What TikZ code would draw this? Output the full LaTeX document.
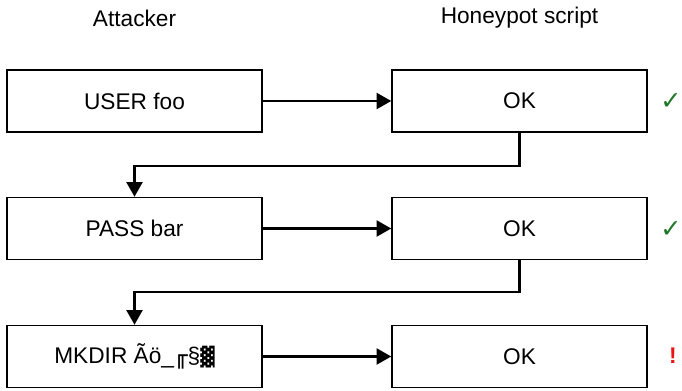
\documentclass[tikz,border=0pt]{standalone}
\usepackage{fontspec}
\setmainfont{Liberation Sans}
\newfontfamily\symfont{DejaVu Sans}
\usetikzlibrary{arrows.meta}
\definecolor{okgreen}{RGB}{30,120,40}
\definecolor{warnred}{RGB}{235,20,20}
\begin{document}
\begin{tikzpicture}[x=0.75pt,y=-0.75pt,
  msgbox/.style={draw=black,line width=1.1pt,minimum width=255*0.75pt,minimum height=62*0.75pt,inner sep=0pt,font=\fontsize{17}{20}\selectfont},
  hdr/.style={font=\fontsize{17}{20}\selectfont},
  conn/.style={line width=1.6pt,-{Triangle[length=11pt,width=12pt]}}]
\useasboundingbox (0,0) rectangle (682,391);
\node[hdr] (hA) at (134.5,18) {Attacker};
\node[hdr] (hH) at (519.5,18) {Honeypot script};
\node[msgbox] (a1) at (134.5,101) {USER foo};
\node[msgbox] (a2) at (134.5,228.5) {PASS bar};
\node[msgbox] (a3) at (134.5,356.5) {MKDIR Ãö\_{\symfont ╓}§{\symfont\fontsize{14}{16}\selectfont ▓}};
\node[msgbox] (h1) at (519.5,101) {OK};
\node[msgbox] (h2) at (519.5,228.5) {OK};
\node[msgbox] (h3) at (519.5,356.5) {OK};
\node[text=okgreen,font=\symfont\bfseries\fontsize{19}{22}\selectfont] (c1) at (671,102) {✓};
\node[text=okgreen,font=\symfont\bfseries\fontsize{19}{22}\selectfont] (c2) at (671,230) {✓};
\node[text=warnred,font=\fontsize{17}{20}\selectfont\bfseries] (c3) at (673,356) {!};
\draw[conn] (a1) -- (h1);
\draw[conn] (a2) -- (h2);
\draw[conn] (a3) -- (h3);
\draw[conn] (h1.south) -- ++(0,33) -| (a2.north);
\draw[conn] (h2.south) -- ++(0,32) -| (a3.north);
\end{tikzpicture}
\end{document}
